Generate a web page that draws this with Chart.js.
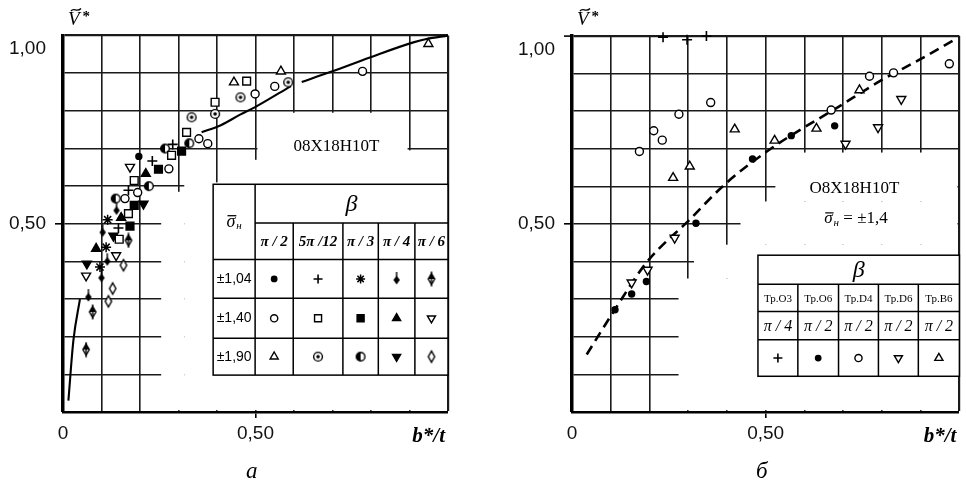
<!DOCTYPE html>
<html lang="ru">
<head>
<meta charset="utf-8">
<title>Ṽ* от b*/t</title>
<script src="https://cdn.jsdelivr.net/npm/chart.js@4.4.1/dist/chart.umd.min.js"></script>
<style>
  html, body { margin: 0; background: #fff; }
  #wrap { position: relative; width: 966px; height: 484px; overflow: hidden; }
  canvas { position: absolute; top: 0; }
  #left { left: 0; }
  #right { left: 483px; }
</style>
</head>
<body>
<div id="wrap">
  <canvas id="left" width="483" height="484"></canvas>
  <canvas id="right" width="483" height="484"></canvas>
</div>
<script>
// ---- panel а: 08X18H10T, points grouped by sigma level and beta ----
// sigma = ±1,04
const a104Pi2   = [[0.197, 0.679]];
const a104Pi512 = [[0.285, 0.711], [0.232, 0.667], [0.17, 0.589], [0.144, 0.489]];
const a104Pi3   = [[0.116, 0.511], [0.112, 0.438], [0.096, 0.385]];
const a104Pi4   = [[0.139, 0.538], [0.103, 0.48], [0.115, 0.403], [0.1, 0.359], [0.066, 0.308]];
const a104Pi6   = [[0.17, 0.456], [0.077, 0.266], [0.06, 0.166]];
// sigma = ±1,40
const a140Pi2   = [[0.353, 0.726], [0.376, 0.713], [0.275, 0.646], [0.194, 0.583], [0.161, 0.567],
                   [0.499, 0.845], [0.55, 0.865], [0.778, 0.905]];
const a140Pi512 = [[0.395, 0.823], [0.321, 0.743], [0.282, 0.682], [0.185, 0.615], [0.17, 0.527],
                   [0.146, 0.459], [0.477, 0.879]];
const a140Pi3   = [[0.308, 0.693], [0.248, 0.645], [0.185, 0.549], [0.174, 0.494]];
const a140Pi4   = [[0.215, 0.633], [0.151, 0.516], [0.086, 0.434]];
const a140Pi6   = [[0.174, 0.651], [0.138, 0.416], [0.06, 0.362]];
// sigma = ±1,90
const a190Pi2   = [[0.444, 0.876], [0.566, 0.905], [0.949, 0.978]];
const a190Pi512 = [[0.461, 0.836], [0.395, 0.792], [0.334, 0.783], [0.585, 0.876]];
const a190Pi3   = [[0.328, 0.714], [0.265, 0.70], [0.223, 0.60], [0.137, 0.567]];
const a190Pi4   = [[0.209, 0.553], [0.131, 0.468], [0.062, 0.394]];
const a190Pi6   = [[0.157, 0.39], [0.129, 0.328], [0.118, 0.294]];
// fitted curve (solid), drawn in pieces
const aFitLow  = [[0.014, 0.03], [0.027, 0.19], [0.044, 0.30]];
const aFitMid  = [[0.36, 0.743], [0.41, 0.762], [0.46, 0.79], [0.499, 0.81], [0.592, 0.866]];
const aFitHigh = [[0.62, 0.877], [0.694, 0.903], [0.797, 0.942], [0.91, 0.982], [0.944, 0.991], [1.0, 1.0]];

// ---- panel б: sigma = ±1,4, points by specimen ----
const bTrO3 = [[0.235, 0.997], [0.297, 0.99], [0.347, 1.0]];
const bTrO6 = [[0.111, 0.272], [0.154, 0.314], [0.192, 0.347], [0.32, 0.502], [0.466, 0.673],
               [0.566, 0.735], [0.678, 0.761]];
const bTrD4 = [[0.174, 0.693], [0.211, 0.748], [0.233, 0.723], [0.276, 0.792], [0.358, 0.823],
               [0.669, 0.803], [0.768, 0.893], [0.83, 0.902], [0.974, 0.926]];
const bTrD6 = [[0.154, 0.344], [0.195, 0.378], [0.265, 0.463], [0.706, 0.713], [0.79, 0.757], [0.85, 0.832]];
const bTrB6 = [[0.261, 0.623], [0.304, 0.653], [0.42, 0.752], [0.523, 0.722], [0.631, 0.754], [0.742, 0.856]];
const bFit  = [[0.038, 0.153], [0.111, 0.273], [0.192, 0.397], [0.304, 0.512], [0.394, 0.605],
               [0.51, 0.698], [0.69, 0.813], [0.80, 0.883], [0.897, 0.937], [0.987, 0.99]];

// ---- labels ----
const xTickLabels = ['0', '', '', '', '', '0,50', '', '', '', '', ''];
const yTickLabels = ['', '', '', '', '', '0,50', '', '', '', '', '1,00'];
const sigmaLevels = ['±1,04', '±1,40', '±1,90'];
const betaLeft    = ['π / 2', '5π /12', 'π / 3', 'π / 4', 'π / 6'];
const specimens   = ['Тр.О3', 'Тр.О6', 'Тр.D4', 'Тр.D6', 'Тр.B6'];
const betaRight   = ['π / 4', 'π / 2', 'π / 2', 'π / 2', 'π / 2'];
const steelGrade  = '08X18H10T';
const steelGradeB = 'O8X18H10T';

// ---- marker glyphs that Chart.js has no built-in style for ----
function glyph(w, h, paint) {
  const c = document.createElement('canvas');
  c.width = w; c.height = h;
  const g = c.getContext('2d');
  g.lineWidth = 1.4; g.strokeStyle = '#000'; g.fillStyle = '#000';
  paint(g, w / 2, h / 2);
  return c;
}
function rhomb(g, cx, cy, hw, hh) {
  g.beginPath();
  g.moveTo(cx, cy - hh); g.lineTo(cx + hw, cy); g.lineTo(cx, cy + hh); g.lineTo(cx - hw, cy);
  g.closePath();
}
const circledDotImg = glyph(12, 12, (g, cx, cy) => {
  g.fillStyle = '#fff'; g.beginPath(); g.arc(cx, cy, 4.4, 0, Math.PI * 2); g.fill(); g.stroke();
  g.fillStyle = '#000'; g.beginPath(); g.arc(cx, cy, 1.8, 0, Math.PI * 2); g.fill();
});
const halfCircleImg = glyph(12, 12, (g, cx, cy) => {
  g.fillStyle = '#fff'; g.beginPath(); g.arc(cx, cy, 4.3, 0, Math.PI * 2); g.fill(); g.stroke();
  g.fillStyle = '#000'; g.beginPath(); g.arc(cx, cy, 4.3, Math.PI / 2, Math.PI * 1.5); g.closePath(); g.fill();
});
const stickDiamondImg = glyph(10, 16, (g, cx, cy) => {
  rhomb(g, cx, cy + 1, 3.2, 4.6); g.fill();
  g.beginPath(); g.moveTo(cx, cy - 7); g.lineTo(cx, cy - 2); g.stroke();
});
const halfDiamondImg = glyph(10, 16, (g, cx, cy) => {
  g.fillStyle = '#fff'; rhomb(g, cx, cy, 3.2, 5.5); g.fill(); g.stroke();
  g.fillStyle = '#000'; g.beginPath();
  g.moveTo(cx, cy - 5.5); g.lineTo(cx + 3.2, cy); g.lineTo(cx - 3.2, cy); g.closePath(); g.fill();
  g.beginPath(); g.moveTo(cx, cy - 7.5); g.lineTo(cx, cy + 7.5); g.stroke();
});
const openDiamondImg = glyph(10, 16, (g, cx, cy) => {
  g.fillStyle = '#fff'; rhomb(g, cx, cy, 3.2, 5.6); g.fill(); g.stroke();
});

const S = {
  dot:         { pointStyle: 'circle', pointRadius: 3, pointBackgroundColor: '#000' },
  plus:        { pointStyle: 'cross', pointRadius: 5, pointBorderWidth: 1.6 },
  star:        { pointStyle: 'star', pointRadius: 5, pointBorderWidth: 1.5 },
  ring:        { pointStyle: 'circle', pointRadius: 4, pointBackgroundColor: '#fff' },
  box:         { pointStyle: 'rect', pointRadius: 5.5, pointBackgroundColor: '#fff' },
  block:       { pointStyle: 'rect', pointRadius: 5.5, pointBackgroundColor: '#000' },
  tri:         { pointStyle: 'triangle', pointRadius: 5.2, pointBackgroundColor: '#000' },
  triOpen:     { pointStyle: 'triangle', pointRadius: 5.2, pointBackgroundColor: '#fff' },
  triDown:     { pointStyle: 'triangle', pointRadius: 5.2, pointRotation: 180, pointBackgroundColor: '#000' },
  triDownOpen: { pointStyle: 'triangle', pointRadius: 5.2, pointRotation: 180, pointBackgroundColor: '#fff' },
  circledDot:  { pointStyle: circledDotImg },
  halfCircle:  { pointStyle: halfCircleImg },
  stickDiamond:{ pointStyle: stickDiamondImg },
  halfDiamond: { pointStyle: halfDiamondImg },
  openDiamond: { pointStyle: openDiamondImg }
};

// rows: sigma levels, columns: beta
const aGroups = [
  [a104Pi2, a104Pi512, a104Pi3, a104Pi4, a104Pi6],
  [a140Pi2, a140Pi512, a140Pi3, a140Pi4, a140Pi6],
  [a190Pi2, a190Pi512, a190Pi3, a190Pi4, a190Pi6]
];
const aStyles = [
  [S.dot, S.plus, S.star, S.stickDiamond, S.halfDiamond],
  [S.ring, S.box, S.block, S.tri, S.triDownOpen],
  [S.triOpen, S.circledDot, S.halfCircle, S.triDown, S.openDiamond]
];
const bGroups = [bTrO3, bTrO6, bTrD4, bTrD6, bTrB6];
const bStyles = [S.plus, S.dot, S.ring, S.triDownOpen, S.triOpen];

// ---- dataset builders ----
const toXY = pts => pts.map(([x, y]) => ({ x, y }));
function markerSet(pts, st) {
  return {
    data: toXY(pts), showLine: false, clip: false,
    pointStyle: st.pointStyle, pointRadius: st.pointRadius ?? 4, pointRotation: st.pointRotation ?? 0,
    pointBackgroundColor: st.pointBackgroundColor ?? '#000', pointBorderColor: '#000',
    pointBorderWidth: st.pointBorderWidth ?? 1.4, pointHoverRadius: st.pointRadius ?? 4
  };
}
function curveSet(pts, dash) {
  return {
    data: toXY(pts), showLine: true, pointRadius: 0, borderColor: '#000',
    borderWidth: dash ? 2.6 : 2.1, borderDash: dash || [], cubicInterpolationMode: 'monotone', clip: false
  };
}

// ---- scales ----
const SANS = '"Liberation Sans", Arial, sans-serif';
const SERIF = '"Liberation Serif", "Times New Roman", serif';
const gridWidth = c => (c.index === 0 ? 0 : c.index === 10 ? 2.2 : 1.6);

function xScale(tickIdx) {
  return {
    type: 'linear', min: 0, max: 1,
    afterFit: s => { s.height = 40; },
    ticks: {
      stepSize: 0.1, autoSkip: false, maxRotation: 0, padding: 4, color: '#111',
      font: { family: SANS, size: 19 },
      callback: (v, i) => xTickLabels[i] ?? ''
    },
    grid: {
      color: '#1a1a1a', lineWidth: gridWidth, tickLength: 6, tickWidth: 1.6,
      tickColor: c => (tickIdx.includes(c.index) ? '#000' : 'rgba(0,0,0,0)')
    },
    border: { color: '#000', width: 2.6 }
  };
}
function yScale(width, tickIdx) {
  return {
    type: 'linear', min: 0, max: 1,
    afterFit: s => { s.width = width; },
    ticks: {
      stepSize: 0.1, autoSkip: false, padding: 9, color: '#111',
      font: { family: SANS, size: 19, lineHeight: 1.4 },
      // the top label sits a line below its grid line
      callback: (v, i) => (i === 10 ? ['', yTickLabels[i]] : (yTickLabels[i] ?? ''))
    },
    grid: {
      color: '#1a1a1a', lineWidth: gridWidth, tickLength: 8, tickWidth: 1.6,
      tickColor: c => (tickIdx.includes(c.index) ? '#000' : 'rgba(0,0,0,0)')
    },
    border: { color: '#000', width: 3.5 }
  };
}

// ---- drawing helpers for the overlays ----
function stamp(ctx, st, x, y) {
  ctx.save();
  ctx.fillStyle = st.pointBackgroundColor || '#000';
  ctx.strokeStyle = '#000';
  ctx.lineWidth = st.pointBorderWidth || 1.4;
  Chart.helpers.drawPoint(ctx, {
    pointStyle: st.pointStyle, rotation: st.pointRotation || 0,
    radius: (st.pointRadius || 4) * 0.9, borderWidth: ctx.lineWidth
  }, x, y);
  ctx.restore();
}
function text(ctx, str, x, y, font, align) {
  ctx.font = font;
  ctx.textAlign = align || 'center';
  ctx.textBaseline = 'middle';
  ctx.fillStyle = '#000';
  ctx.fillText(str, x, y);
}
// sigma with overbar and subscript "н", optionally followed by more text
function sigmaLabel(ctx, cx, cy, size, tail) {
  const fSig = `italic ${size}px ${SERIF}`;
  const fSub = `italic ${Math.round(size * 0.62)}px ${SERIF}`;
  const fTail = `${size}px ${SERIF}`;
  ctx.font = fSig; const w1 = ctx.measureText('σ').width;
  ctx.font = fSub; const w2 = ctx.measureText('н').width;
  ctx.font = fTail; const w3 = tail ? ctx.measureText(tail).width : 0;
  let x = cx - (w1 + w2 + 1 + w3) / 2;
  const base = cy + size * 0.28;
  ctx.fillStyle = '#000';
  ctx.textAlign = 'left'; ctx.textBaseline = 'alphabetic';
  ctx.font = fSig; ctx.fillText('σ', x, base);
  ctx.fillRect(x + 1, base - size * 0.66, w1, Math.max(1.2, size * 0.07));
  x += w1 + 1;
  ctx.font = fSub; ctx.fillText('н', x, base + size * 0.12);
  x += w2;
  if (tail) { ctx.font = fTail; ctx.fillText(tail, x, base); }
}
// italic V with a tilde and asterisk, the ordinate name
function vStar(ctx, x, base) {
  ctx.fillStyle = '#000'; ctx.textAlign = 'left'; ctx.textBaseline = 'alphabetic';
  ctx.font = `italic 19px ${SERIF}`;
  ctx.fillText('V', x, base);
  const w = ctx.measureText('V').width;
  ctx.font = `bold 15px ${SERIF}`;
  ctx.fillText('*', x + w + 3, base - 4);
  ctx.save();
  ctx.strokeStyle = '#000'; ctx.lineWidth = 1.3;
  ctx.beginPath();
  const tx = x + 3, ty = base - 15;
  ctx.moveTo(tx, ty + 1);
  ctx.bezierCurveTo(tx + 3, ty - 3, tx + 6, ty + 3, tx + 10, ty - 1.5);
  ctx.stroke();
  ctx.restore();
}
function gridRect(ctx, X, Y, x0, x1, y0, y1) {
  ctx.fillRect(X(x0), Y(y1), X(x1) - X(x0), Y(y0) - Y(y1));
}

function decor(drawInner, caption) {
  return {
    id: 'panelDecor',
    beforeDatasetsDraw(chart) {
      const ctx = chart.ctx;
      const X = v => chart.scales.x.getPixelForValue(v);
      const Y = v => chart.scales.y.getPixelForValue(v);
      ctx.save();
      drawInner(ctx, X, Y);
      ctx.restore();
    },
    afterDraw(chart) {
      const ctx = chart.ctx;
      const a = chart.chartArea;
      ctx.save();
      vStar(ctx, a.left + 5, 25);
      ctx.font = `italic bold 21px ${SERIF}`;
      ctx.textAlign = 'right'; ctx.textBaseline = 'alphabetic'; ctx.fillStyle = '#000';
      ctx.fillText('b*/t', a.right - 3, 442);
      ctx.font = `italic 23px ${SERIF}`;
      ctx.textAlign = 'center';
      ctx.fillText(caption, chart.scales.x.getPixelForValue(0.49), 478);
      ctx.restore();
    }
  };
}

// ---- panel а overlays: blank grid areas, grade label, legend table ----
function drawPanelA(ctx, X, Y) {
  ctx.fillStyle = '#fff';
  gridRect(ctx, X, Y, 0.315, 0.995, 0.005, 0.61);
  gridRect(ctx, X, Y, 0.255, 0.315, 0.005, 0.585);
  gridRect(ctx, X, Y, 0.505, 0.895, 0.60, 0.795);
  gridRect(ctx, X, Y, 0.49, 0.51, 0.60, 0.67);
  gridRect(ctx, X, Y, 0.89, 0.91, 0.60, 0.695);

  text(ctx, steelGrade, X(0.71), Y(0.704), `17px ${SERIF}`);

  const cx = [0.39, 0.499, 0.598, 0.727, 0.819, 0.914, 1.0].map(X);
  const ry = [0.605, 0.502, 0.405, 0.302, 0.196, 0.098].map(Y);
  ctx.fillStyle = '#fff';
  ctx.fillRect(cx[0], ry[0], cx[6] - cx[0], ry[5] - ry[0]);
  ctx.strokeStyle = '#000'; ctx.lineWidth = 1.5;
  ctx.strokeRect(cx[0], ry[0], cx[6] - cx[0], ry[5] - ry[0]);
  ctx.beginPath();
  ctx.moveTo(cx[1], ry[1]); ctx.lineTo(cx[6], ry[1]);
  for (let r = 2; r <= 4; r++) { ctx.moveTo(cx[0], ry[r]); ctx.lineTo(cx[6], ry[r]); }
  ctx.moveTo(cx[1], ry[0]); ctx.lineTo(cx[1], ry[5]);
  for (let c = 2; c <= 5; c++) { ctx.moveTo(cx[c], ry[1]); ctx.lineTo(cx[c], ry[5]); }
  ctx.stroke();

  sigmaLabel(ctx, (cx[0] + cx[1]) / 2, (ry[0] + ry[2]) / 2, 18);
  text(ctx, 'β', (cx[1] + cx[6]) / 2, (ry[0] + ry[1]) / 2 + 1, `italic 24px ${SERIF}`);
  betaLeft.forEach((t, i) => {
    text(ctx, t, (cx[i + 1] + cx[i + 2]) / 2, (ry[1] + ry[2]) / 2 + 1, `italic bold 15px ${SERIF}`);
  });
  sigmaLevels.forEach((t, r) => {
    const my = (ry[r + 2] + ry[r + 3]) / 2;
    text(ctx, t, (cx[0] + cx[1]) / 2, my, `14px ${SANS}`);
    aStyles[r].forEach((st, c) => stamp(ctx, st, (cx[c + 1] + cx[c + 2]) / 2, my));
  });
}

// ---- panel б overlays ----
function drawPanelB(ctx, X, Y) {
  ctx.fillStyle = '#fff';
  gridRect(ctx, X, Y, 0.275, 0.995, 0.005, 0.355);
  gridRect(ctx, X, Y, 0.315, 0.995, 0.355, 0.445);
  gridRect(ctx, X, Y, 0.435, 0.995, 0.445, 0.56);
  gridRect(ctx, X, Y, 0.525, 0.995, 0.56, 0.69);

  text(ctx, steelGradeB, X(0.729), Y(0.594), `17px ${SERIF}`);
  sigmaLabel(ctx, X(0.733), Y(0.514), 17, ' = ±1,4');

  const cx = [0.48, 0.583, 0.688, 0.791, 0.894, 1.0].map(X);
  const ry = [0.417, 0.34, 0.267, 0.192, 0.095].map(Y);
  ctx.fillStyle = '#fff';
  ctx.fillRect(cx[0], ry[0], cx[5] - cx[0], ry[4] - ry[0]);
  ctx.strokeStyle = '#000'; ctx.lineWidth = 1.5;
  ctx.strokeRect(cx[0], ry[0], cx[5] - cx[0], ry[4] - ry[0]);
  ctx.beginPath();
  for (let r = 1; r <= 3; r++) { ctx.moveTo(cx[0], ry[r]); ctx.lineTo(cx[5], ry[r]); }
  for (let c = 1; c <= 4; c++) { ctx.moveTo(cx[c], ry[1]); ctx.lineTo(cx[c], ry[4]); }
  ctx.stroke();

  text(ctx, 'β', (cx[0] + cx[5]) / 2, (ry[0] + ry[1]) / 2 + 1, `italic 24px ${SERIF}`);
  specimens.forEach((t, i) => {
    const mx = (cx[i] + cx[i + 1]) / 2;
    text(ctx, t, mx, (ry[1] + ry[2]) / 2 + 1, `11px ${SERIF}`);
    text(ctx, betaRight[i], mx, (ry[2] + ry[3]) / 2 + 1, `italic 16px ${SERIF}`);
    stamp(ctx, bStyles[i], mx, (ry[3] + ry[4]) / 2);
  });
}

// ---- charts ----
Chart.defaults.animation = false;
Chart.defaults.font.family = SANS;

const aDatasets = [];
aGroups.forEach((row, r) => row.forEach((pts, c) => aDatasets.push(markerSet(pts, aStyles[r][c]))));
aDatasets.push(curveSet(aFitLow), curveSet(aFitMid), curveSet(aFitHigh));

new Chart(document.getElementById('left'), {
  type: 'scatter',
  data: { datasets: aDatasets },
  options: {
    responsive: false, devicePixelRatio: 1,
    layout: { padding: { top: 35, right: 35, bottom: 32, left: 0 } },
    scales: { x: xScale([5]), y: yScale(63, [5]) },
    plugins: { legend: { display: false }, tooltip: { enabled: false } }
  },
  plugins: [decor(drawPanelA, 'а')]
});

const bDatasets = bGroups.map((pts, i) => markerSet(pts, bStyles[i]));
bDatasets.push(curveSet(bFit, [10, 6]));

new Chart(document.getElementById('right'), {
  type: 'scatter',
  data: { datasets: bDatasets },
  options: {
    responsive: false, devicePixelRatio: 1,
    layout: { padding: { top: 36, right: 6, bottom: 32, left: 0 } },
    scales: { x: xScale([5]), y: yScale(89, [5, 10]) },
    plugins: { legend: { display: false }, tooltip: { enabled: false } }
  },
  plugins: [decor(drawPanelB, 'б')]
});
</script>
</body>
</html>
